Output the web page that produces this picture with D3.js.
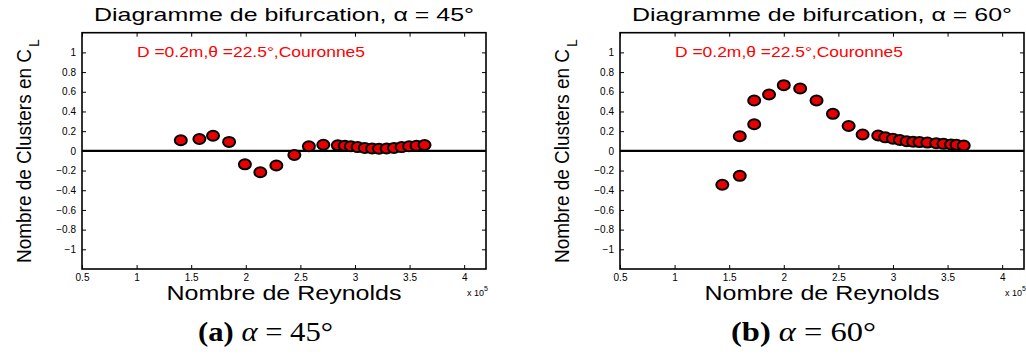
<!DOCTYPE html>
<html>
<head>
<meta charset="utf-8">
<script src="https://cdn.jsdelivr.net/npm/d3@7"></script>
<style>
  html, body { margin: 0; padding: 0; background: #fff; }
  svg { display: block; }
</style>
</head>
<body>
<svg id="chart" width="1026" height="356"></svg>
<script>
// ---------- data ----------
const xTickValues = [0.5, 1, 1.5, 2, 2.5, 3, 3.5, 4];
const xTickLabels = ["0.5", "1", "1.5", "2", "2.5", "3", "3.5", "4"];
const yTickValues = [-1, -0.8, -0.6, -0.4, -0.2, 0, 0.2, 0.4, 0.6, 0.8, 1];
const yTickLabels = ["\u22121", "\u22120.8", "\u22120.6", "\u22120.4", "\u22120.2", "0", "0.2", "0.4", "0.6", "0.8", "1"];

const re45 = [1.405, 1.575, 1.70, 1.847, 1.992, 2.133, 2.28, 2.445, 2.578, 2.71, 2.843, 2.907, 2.962, 3.024, 3.09, 3.157, 3.22, 3.29, 3.357, 3.427, 3.496, 3.564, 3.637];
const cl45 = [0.107, 0.121, 0.154, 0.091, -0.137, -0.217, -0.149, -0.042, 0.046, 0.062, 0.056, 0.052, 0.046, 0.038, 0.029, 0.024, 0.021, 0.024, 0.03, 0.038, 0.046, 0.053, 0.06];

const re60 = [1.437, 1.597, 1.597, 1.729, 1.729, 1.865, 2.0, 2.15, 2.30, 2.45, 2.594, 2.722, 2.865, 2.93, 3.0, 3.063, 3.125, 3.185, 3.243, 3.315, 3.396, 3.463, 3.532, 3.582, 3.648];
const cl60 = [-0.345, -0.254, 0.149, 0.27, 0.511, 0.572, 0.667, 0.633, 0.511, 0.376, 0.252, 0.166, 0.156, 0.137, 0.123, 0.11, 0.097, 0.092, 0.089, 0.084, 0.078, 0.071, 0.064, 0.061, 0.054];

const titles = ["Diagramme de bifurcation, \u03b1 = 45\u00b0", "Diagramme de bifurcation, \u03b1 = 60\u00b0"];
const annotation = "D =0.2m,\u03b8 =22.5\u00b0,Couronne5";
const xLabel = "Nombre de Reynolds";
const yLabelMain = "Nombre de Clusters en C";
const yLabelSub = "L";
const xExponent = ["x 10", "5"];
const captionLetters = ["(a)", "(b)"];
const captionAngles = ["45\u00b0", "60\u00b0"];
const xDomain = [0.5, 4.2];
const yDomain = [-1.2, 1.2];

// ---------- drawing ----------
const svg = d3.select("#chart");
const SANS = "'Liberation Sans', Arial, Helvetica, sans-serif";
const SERIF = "'Liberation Serif', 'DejaVu Serif', serif";

const panels = [
  { left: 82, right: 486, xs: re45, ys: cl45, title: titles[0], cap: 0, capX: 198, capW: 135 },
  { left: 620, right: 1024, xs: re60, ys: cl60, title: titles[1], cap: 1, capX: 731, capW: 145 }
];
const plotTop = 32.7, plotBottom = 269;

panels.forEach(p => {
  const x = d3.scaleLinear().domain(xDomain).range([p.left, p.right]);
  const y = d3.scaleLinear().domain(yDomain).range([plotBottom, plotTop]);
  const g = svg.append("g");

  // zero line
  g.append("line")
    .attr("x1", p.left).attr("x2", p.right)
    .attr("y1", y(0)).attr("y2", y(0))
    .attr("stroke", "#000").attr("stroke-width", 2.2);

  // axes (inward ticks, mirrored)
  const axB = d3.axisBottom(x).tickValues(xTickValues).tickSizeInner(-4).tickSizeOuter(0)
    .tickPadding(5).tickFormat((d, i) => xTickLabels[i]);
  const axT = d3.axisTop(x).tickValues(xTickValues).tickSizeInner(-4).tickSizeOuter(0).tickFormat("");
  const axL = d3.axisLeft(y).tickValues(yTickValues).tickSizeInner(-4).tickSizeOuter(0)
    .tickPadding(6).tickFormat((d, i) => yTickLabels[i]);
  const axR = d3.axisRight(y).tickValues(yTickValues).tickSizeInner(-4).tickSizeOuter(0).tickFormat("");

  const gb = g.append("g").attr("transform", `translate(0,${plotBottom})`).call(axB);
  const gt = g.append("g").attr("transform", `translate(0,${plotTop})`).call(axT);
  const gl = g.append("g").attr("transform", `translate(${p.left},0)`).call(axL);
  const gr = g.append("g").attr("transform", `translate(${p.right},0)`).call(axR);
  [gb, gt, gl, gr].forEach(a => {
    a.select(".domain").remove();
    a.selectAll(".tick line").attr("stroke", "#000").attr("stroke-width", 1);
    a.selectAll(".tick text").attr("font-family", SANS).attr("font-size", 10).attr("fill", "#000");
  });
  gb.selectAll(".tick text").attr("dy", "0.71em");

  // box
  g.append("rect")
    .attr("x", p.left).attr("y", plotTop)
    .attr("width", p.right - p.left).attr("height", plotBottom - plotTop)
    .attr("fill", "none").attr("stroke", "#000").attr("stroke-width", 1.6);

  // points
  g.append("g").selectAll("ellipse")
    .data(p.xs.map((v, i) => [v, p.ys[i]]))
    .join("ellipse")
    .attr("cx", d => x(d[0])).attr("cy", d => y(d[1]))
    .attr("rx", 6).attr("ry", 5)
    .attr("fill", "#e60000").attr("stroke", "#000").attr("stroke-width", 2);

  // annotation
  g.append("text")
    .attr("x", p.left + 55).attr("y", 57)
    .attr("font-family", SANS).attr("font-size", 14.5).attr("fill", "#ff0000")
    .attr("textLength", 228).attr("lengthAdjust", "spacingAndGlyphs")
    .text(annotation);

  // title
  const cx = (p.left + p.right) / 2;
  g.append("text")
    .attr("x", cx).attr("y", 21).attr("text-anchor", "middle")
    .attr("font-family", SANS).attr("font-size", 19).attr("fill", "#000")
    .attr("textLength", 380).attr("lengthAdjust", "spacingAndGlyphs")
    .text(p.title);

  // x label
  g.append("text")
    .attr("x", cx).attr("y", 300).attr("text-anchor", "middle")
    .attr("font-family", SANS).attr("font-size", 20).attr("fill", "#000")
    .attr("textLength", 235).attr("lengthAdjust", "spacingAndGlyphs")
    .text(xLabel);

  // x exponent
  const ex = g.append("text")
    .attr("x", p.right - 19).attr("y", 296)
    .attr("font-family", SANS).attr("font-size", 9).attr("fill", "#000");
  ex.append("tspan").text(xExponent[0]);
  ex.append("tspan").attr("dy", -5).attr("font-size", 7).text(xExponent[1]);

  // y label
  const yl = g.append("g").attr("transform", `translate(${p.left - 51},263) rotate(-90)`);
  yl.append("text")
    .attr("x", 0).attr("y", 0)
    .attr("font-family", SANS).attr("font-size", 20).attr("fill", "#000")
    .attr("textLength", 214).attr("lengthAdjust", "spacingAndGlyphs")
    .text(yLabelMain);
  yl.append("text")
    .attr("x", 216).attr("y", 8)
    .attr("font-family", SANS).attr("font-size", 14).attr("fill", "#000")
    .text(yLabelSub);

  // caption
  const cap = g.append("text")
    .attr("x", p.capX).attr("y", 341)
    .attr("font-family", SERIF).attr("font-size", 28).attr("fill", "#000")
    .attr("textLength", p.capW).attr("lengthAdjust", "spacingAndGlyphs");
  cap.append("tspan").attr("font-weight", "bold").text(captionLetters[p.cap]);
  cap.append("tspan").text(" ");
  cap.append("tspan").attr("font-style", "italic").text("\u03b1");
  cap.append("tspan").text(" = " + captionAngles[p.cap]);
});
</script>
</body>
</html>
